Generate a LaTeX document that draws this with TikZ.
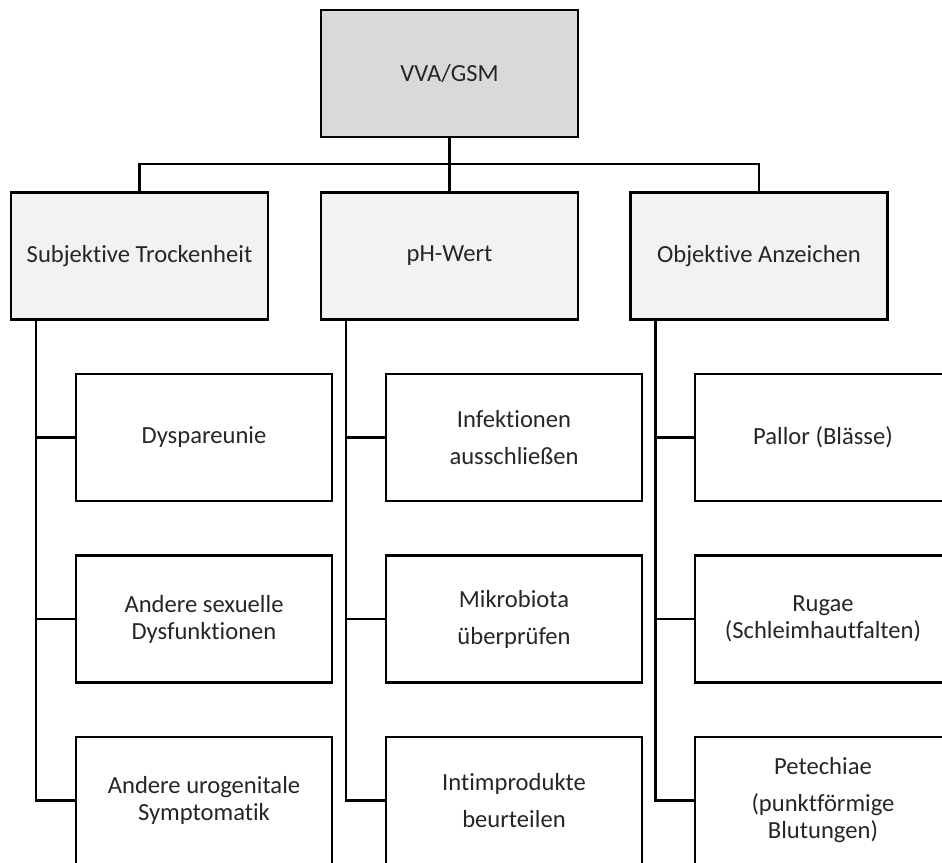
\documentclass[tikz,border=0pt]{standalone}
\usepackage{fontspec}
\setmainfont{Carlito}[Ligatures={NoCommon}]
\usetikzlibrary{calc}
\definecolor{HeadGray}{HTML}{D9D9D9}
\definecolor{CatGray}{HTML}{F2F2F2}
\definecolor{TxtGray}{HTML}{262626}
\tikzset{
    block/.style = {draw, rectangle, line width=1.3pt, text=TxtGray,
        minimum height=2.54cm, minimum width=5.14cm,
        inner sep=0pt, align=center,
        font=\fontsize{14}{15.4}\selectfont},
    head/.style = {block, fill=HeadGray},
    cat/.style = {block, fill=CatGray},
    item/.style = {block, fill=white, minimum width=5.12cm},
    link/.style = {draw, line width=1.3pt}
}

\begin{document}
\begin{tikzpicture}
  \useasboundingbox (0,0) rectangle (18.84,-17.26);
  \clip (0,0) rectangle (18.84,-17.26);
  % top level
  \node[head] (top) at (8.99,-1.47) {VVA/GSM};
  \node[cat] (subj) at (2.79,-5.12) {Subjektive Trockenheit};
  \node[cat] (ph) at (8.99,-5.12) {pH-Wert};
  \node[cat] (obj) at (15.18,-5.12) {Objektive Anzeichen};
  \coordinate (bus) at (8.99,-3.28);
  \draw[link] (top.south) -- (ph.north);
  \draw[link] (subj.north) |- (bus) -| (obj.north);
  % items
  \node[item] (s1) at (4.08,-8.75) {Dyspareunie};
  \node[item] (s2) at (4.08,-12.38) {Andere sexuelle\\Dysfunktionen};
  \node[item] (s3) at (4.08,-16.01) {Andere urogenitale\\Symptomatik};
  \node[item] (p1) at (10.28,-8.75) {Infektionen\\[5.6pt]ausschließen};
  \node[item] (p2) at (10.28,-12.38) {Mikrobiota\\[5.6pt]überprüfen};
  \node[item] (p3) at (10.28,-16.01) {Intimprodukte\\[5.6pt]beurteilen};
  \node[item] (o1) at (16.46,-8.75) {Pallor (Blässe)};
  \node[item] (o2) at (16.46,-12.38) {Rugae\\(Schleimhautfalten)};
  \node[item] (o3) at (16.46,-16.01) {Petechiae\\[5.6pt](punktförmige\\Blutungen)};
  \foreach \c/\i in {subj/s,ph/p,obj/o}{
    \coordinate (\c-line) at ($(\c.south west)+(0.52,0)$);
    \draw[link] (\c-line) |- (\i3.west);
    \foreach \k in {1,2}
      \draw[link] (\i\k.west) -- (\i\k.west -| \c-line);
  };
\end{tikzpicture}
\end{document}
